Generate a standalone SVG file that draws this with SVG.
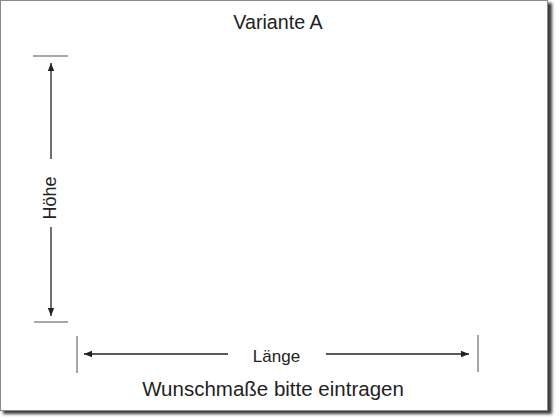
<svg xmlns="http://www.w3.org/2000/svg" width="560" height="420" viewBox="0 0 560 420">
  <style>
    .t { font-family: "Liberation Sans", Arial, sans-serif; fill: #222; text-anchor: middle; }
    .dim { stroke: #222; stroke-width: 1.3; fill: none; }
    .tick { stroke: #8a8a8a; stroke-width: 1.5; fill: none; }
  </style>
  <defs>
    <filter id="blur" x="-5%" y="-5%" width="110%" height="110%">
      <feGaussianBlur stdDeviation="1.6"/>
    </filter>
    <marker id="ah" viewBox="0 0 10 10" refX="10" refY="5" markerWidth="8" markerHeight="8" markerUnits="userSpaceOnUse" orient="auto">
      <path d="M0,1 L10,5 L0,9 Z" fill="#222"/>
    </marker>
  </defs>
  <rect x="0" y="0" width="560" height="420" fill="#fff"/>
  <g id="frame">
    <rect x="3" y="3" width="549" height="411" fill="#3a3a3a" filter="url(#blur)"/>
    <rect x="0.5" y="0.5" width="547" height="410" fill="#fff" stroke="#8a8a8a" stroke-width="1"/>
  </g>
  <g id="title">
    <text class="t" x="278" y="28.5" font-size="19.7">Variante A</text>
  </g>
  <g id="connectors">
    <line class="tick" x1="33" y1="56" x2="68" y2="56"/>
    <line class="tick" x1="34" y1="322" x2="68" y2="322"/>
    <line class="dim" x1="51" y1="159" x2="51" y2="63" marker-end="url(#ah)"/>
    <line class="dim" x1="51" y1="227" x2="51" y2="316" marker-end="url(#ah)"/>
    <line class="tick" x1="77" y1="336" x2="77" y2="373"/>
    <line class="tick" x1="478" y1="335" x2="478" y2="372"/>
    <line class="dim" x1="228" y1="354" x2="84" y2="354" marker-end="url(#ah)"/>
    <line class="dim" x1="326" y1="354" x2="469" y2="354" marker-end="url(#ah)"/>
  </g>
  <g id="hoehe">
    <text class="t" x="0" y="0" font-size="18" transform="translate(56,198) rotate(-90)">Höhe</text>
  </g>
  <g id="laenge">
    <text class="t" x="276.5" y="361.5" font-size="17">Länge</text>
  </g>
  <g id="hint">
    <text class="t" x="273" y="396" font-size="20.5">Wunschmaße bitte eintragen</text>
  </g>
</svg>
